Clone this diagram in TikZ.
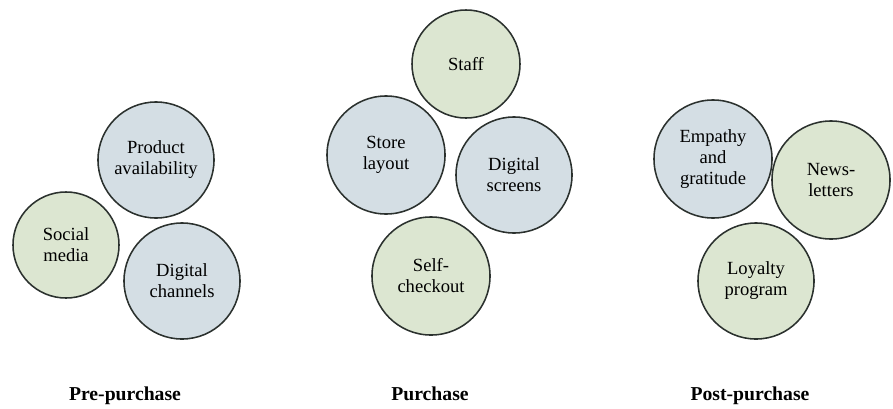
\documentclass[tikz,border=0pt]{standalone}
\usepackage{fontspec}
\setmainfont{Liberation Serif}
\usetikzlibrary{shapes,backgrounds}

\definecolor{bluefill}{HTML}{D4DEE4}
\definecolor{greenfill}{HTML}{DCE6D1}
\definecolor{rimcol}{HTML}{2B312E}

\begin{document}
\begin{tikzpicture}[x=0.025cm, y=-0.025cm,
  touch/.style={circle, draw=rimcol, line width=1.1pt, align=center, inner sep=0pt,
    font=\fontsize{13.2}{15}\selectfont},
  bluetouch/.style={touch, fill=bluefill},
  greentouch/.style={touch, fill=greenfill},
  phase/.style={anchor=base, font=\fontsize{14}{16}\selectfont\bfseries}]
\useasboundingbox (0,0) rectangle (893,408); % page size in px units

% pre-purchase group
\node[bluetouch, minimum size=2.9cm] (prodavail) at (156,160) {Product\\availability};
\node[greentouch, minimum size=2.65cm] (socmedia) at (66,245) {Social\\media};
\node[bluetouch, minimum size=2.9cm] (digchannels) at (182,281) {Digital\\channels};

% purchase group
\node[greentouch, minimum size=2.7cm] (staff) at (466,64) {Staff};
\node[bluetouch, minimum size=2.95cm] (storelayout) at (386,155) {Store\\layout};
\node[bluetouch, minimum size=2.9cm] (digscreens) at (514,175) {Digital\\screens};
\node[greentouch, minimum size=2.95cm] (selfcheck) at (431,276) {Self-\\checkout};

% post-purchase group
\node[bluetouch, minimum size=2.95cm] (empathy) at (713,159) {Empathy\\and\\gratitude};
\node[greentouch, minimum size=2.95cm] (newsletters) at (831,180) {News-\\letters};
\node[greentouch, minimum size=2.9cm] (loyalty) at (756,281) {Loyalty\\program};

% phase captions, all on one baseline
\foreach \nm/\x/\txt in {pre/125/Pre-purchase, buy/430/Purchase, post/750/Post-purchase}
  \node[phase] (\nm) at (\x,400) {\txt};
\end{tikzpicture}
\end{document}
